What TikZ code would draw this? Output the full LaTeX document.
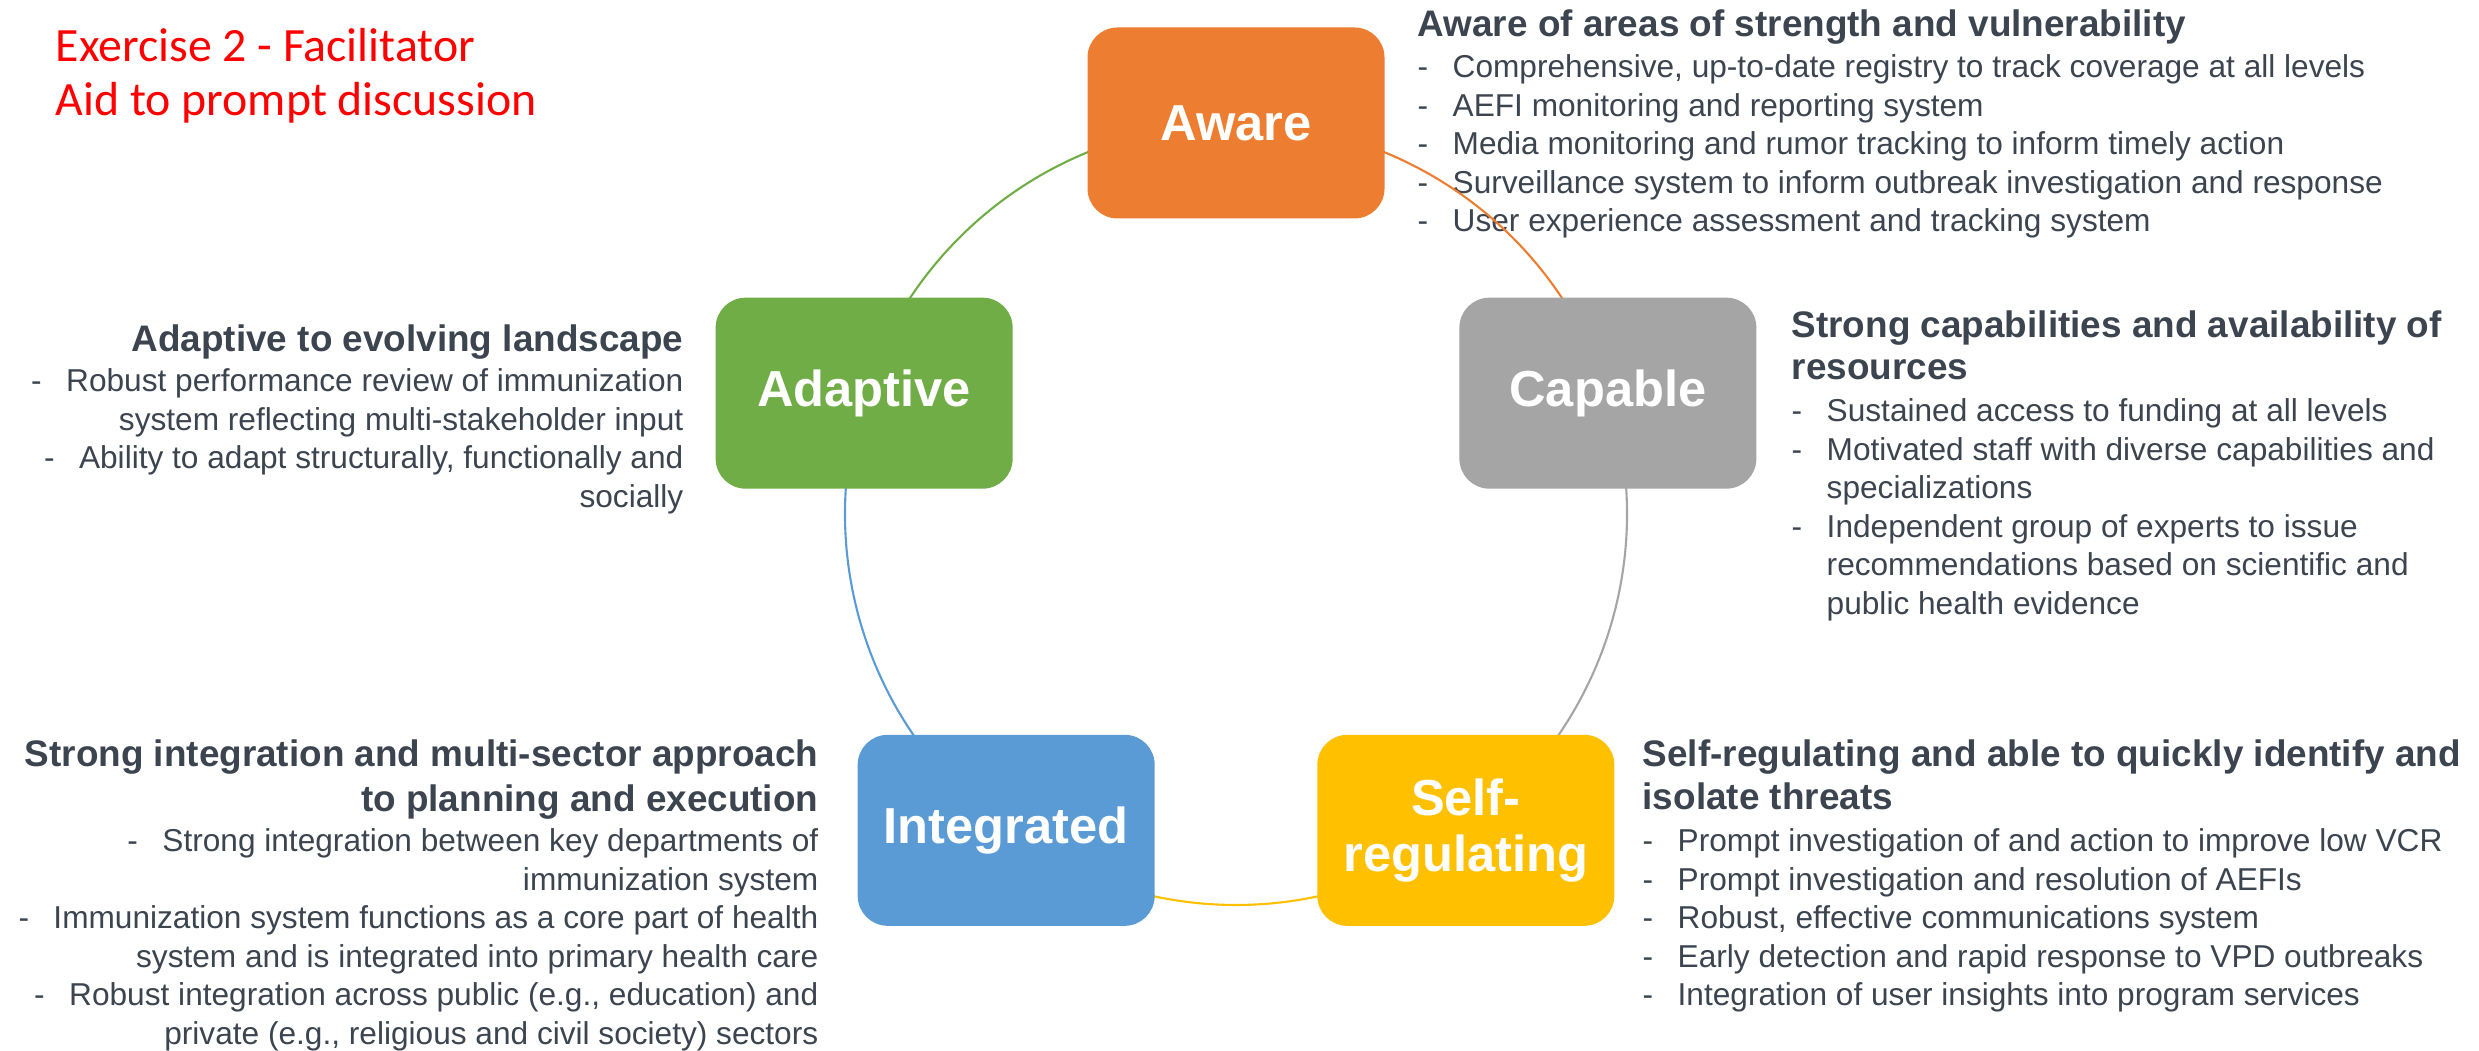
\documentclass[tikz,border=0pt]{standalone}
\usepackage{fontspec}
\setmainfont{Liberation Sans}
\newfontfamily\titlefont{Carlito}
\usetikzlibrary{positioning,backgrounds,calc}

\definecolor{awareorange}{HTML}{ED7D31}
\definecolor{capablegray}{HTML}{A5A5A5}
\definecolor{selfgold}{HTML}{FFC000}
\definecolor{integblue}{HTML}{5B9BD5}
\definecolor{adaptgreen}{HTML}{70AD47}
\definecolor{slate}{HTML}{3B444F}

\newcommand{\itm}{\makebox[3.5mm][l]{-}}
\newcommand{\cnt}{\hspace*{3.5mm}}

\tikzset{
  box/.style={rounded corners=3mm, minimum width=2.97cm, minimum height=1.91cm,
    inner sep=0pt, text=white, align=center, font=\fontsize{14.4}{16}\selectfont\bfseries},
  head/.style={inner sep=0pt, text=slate, font=\fontsize{10.5}{12}\selectfont\bfseries},
  body/.style={inner sep=0pt, text=slate, font=\fontsize{9}{11}\selectfont},
  ttl/.style={inner sep=0pt, text=red, anchor=base west, font=\titlefont\fontsize{13.6}{16}\selectfont},
  cyc/.style={line width=0.6pt},
}

\begin{document}
\begin{tikzpicture}
    \useasboundingbox (0,0) rectangle (24.79,10.51);
    \coordinate (c) at (12.36,5.37);
    \def\R{3.91}

    \node [box, fill=awareorange] (aware) at ($(c)+(90:\R)$) {Aware};
    \node [box, fill=capablegray] (capable) at ($(c)+(18:\R)$) {Capable};
    \node [box, fill=selfgold] (selfreg) at ($(c)+(-54:\R)$) {Self-\\regulating};
    \node [box, fill=integblue] (integrated) at ($(c)+(-126:\R)$) {Integrated};
    \node [box, fill=adaptgreen] (adaptive) at ($(c)+(162:\R)$) {Adaptive};

    \node [ttl] (title) at (0.55,9.89) {Exercise 2 - Facilitator};
    \node [ttl] (subtitle) at (0.55,9.35) {Aid to prompt discussion};

    \begin{scope}[on background layer]
    % aware
    \node [head, anchor=base west] (aw-h) at (14.17,10.14) {Aware of areas of strength and vulnerability};
    \foreach \t [count=\i] in {\itm Comprehensive{,} up-to-date registry to track coverage at all levels,
        \itm AEFI monitoring and reporting system,
        \itm Media monitoring and rumor tracking to inform timely action,
        \itm Surveillance system to inform outbreak investigation and response,
        \itm User experience assessment and tracking system}
      \node [body, anchor=base west] (aw-\i) at (14.17,{9.73-0.385*(\i-1)}) {\t};

    % capable
    \foreach \t [count=\i] in {Strong capabilities and availability of, resources}
      \node [head, anchor=base west] (ca-h\i) at (17.91,{7.13-0.42*(\i-1)}) {\t};
    \foreach \t [count=\i] in {\itm Sustained access to funding at all levels,
        \itm Motivated staff with diverse capabilities and,
        \cnt specializations,
        \itm Independent group of experts to issue,
        \cnt recommendations based on scientific and,
        \cnt public health evidence}
      \node [body, anchor=base west] (ca-\i) at (17.91,{6.29-0.385*(\i-1)}) {\t};

    % self-regulating
    \foreach \t [count=\i] in {Self-regulating and able to quickly identify and, isolate threats}
      \node [head, anchor=base west] (sr-h\i) at (16.42,{2.84-0.43*(\i-1)}) {\t};
    \foreach \t [count=\i] in {\itm Prompt investigation of and action to improve low VCR,
        \itm Prompt investigation and resolution of AEFIs,
        \itm Robust{,} effective communications system,
        \itm Early detection and rapid response to VPD outbreaks,
        \itm Integration of user insights into program services}
      \node [body, anchor=base west] (sr-\i) at (16.42,{1.99-0.385*(\i-1)}) {\t};

    % integrated
    \foreach \t [count=\i] in {Strong integration and multi-sector approach, to planning and execution}
      \node [head, anchor=base east] (in-h\i) at (8.19,{2.84-0.45*(\i-1)}) {\t};
    \foreach \t [count=\i] in {\itm Strong integration between key departments of,
        immunization system,
        \itm Immunization system functions as a core part of health,
        system and is integrated into primary health care,
        \itm Robust integration across public (e.g.{,} education) and,
        private (e.g.{,} religious and civil society) sectors}
      \node [body, anchor=base east] (in-\i) at (8.19,{1.99-0.385*(\i-1)}) {\t};

    % adaptive
    \node [head, anchor=base east] (ad-h) at (6.84,6.99) {Adaptive to evolving landscape};
    \foreach \t [count=\i] in {\itm Robust performance review of immunization,
        system reflecting multi-stakeholder input,
        \itm Ability to adapt structurally{,} functionally and,
        socially}
      \node [body, anchor=base east] (ad-\i) at (6.84,{6.59-0.385*(\i-1)}) {\t};

    % cycle
    \draw [cyc, awareorange] (aware.center) arc [start angle=90, end angle=18, radius=\R];
    \draw [cyc, capablegray] (capable.center) arc [start angle=18, end angle=-54, radius=\R];
    \draw [cyc, selfgold] (selfreg.center) arc [start angle=-54, end angle=-126, radius=\R];
    \draw [cyc, integblue] (integrated.center) arc [start angle=-126, end angle=-198, radius=\R];
    \draw [cyc, adaptgreen] (adaptive.center) arc [start angle=162, end angle=90, radius=\R];
    \end{scope}
\end{tikzpicture}
\end{document}
